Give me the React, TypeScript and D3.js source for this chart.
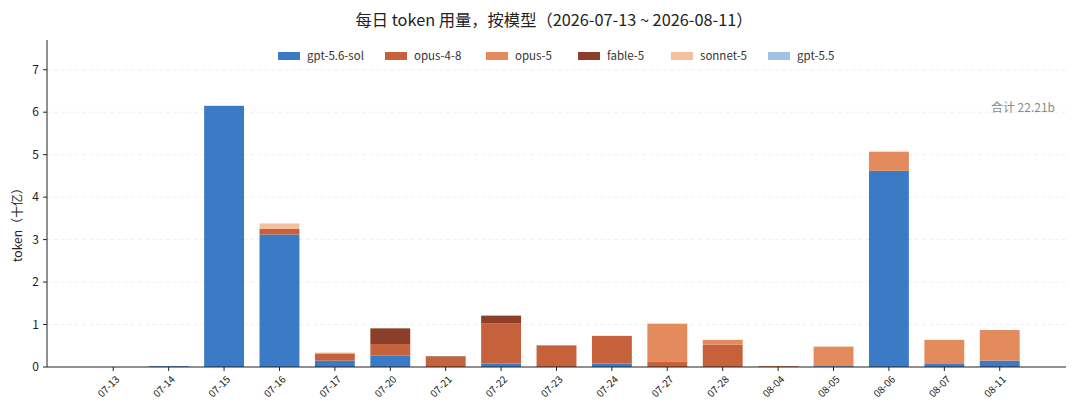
import React, { useEffect } from 'react';
import * as d3 from 'd3';

const dates = ['07-13', '07-14', '07-15', '07-16', '07-17', '07-20', '07-21', '07-22', '07-23', '07-24', '07-27', '07-28', '08-04', '08-05', '08-06', '08-07', '08-11'];

const models = ['gpt-5.6-sol', 'opus-4-8', 'opus-5', 'fable-5', 'sonnet-5', 'gpt-5.5'];
const modelColors = ['#3b7bc5', '#c6623b', '#e38b5d', '#8c3f28', '#f3c19f', '#a3c1e3'];

// 十亿 token / day
const gpt56sol = [0, 0.02, 6.15, 3.12, 0.15, 0.27, 0, 0.08, 0, 0.08, 0, 0, 0, 0.02, 4.62, 0.07, 0.15];
const opus48 = [0, 0, 0, 0.13, 0.17, 0.27, 0.22, 0.95, 0.51, 0.65, 0.12, 0.525, 0.02, 0, 0, 0, 0];
const opus5 = [0, 0, 0, 0, 0, 0, 0, 0, 0, 0, 0.9, 0.115, 0, 0.46, 0.45, 0.57, 0.72];
const fable5 = [0, 0, 0, 0, 0, 0.37, 0.03, 0.18, 0, 0, 0, 0, 0, 0, 0, 0, 0];
const sonnet5 = [0, 0, 0, 0.13, 0.02, 0, 0, 0, 0, 0.01, 0, 0, 0, 0, 0, 0, 0];
const gpt55 = [0, 0, 0, 0, 0, 0, 0, 0, 0, 0, 0, 0, 0, 0, 0, 0, 0];

const yTicks = [0, 1, 2, 3, 4, 5, 6, 7];
const totalLabel = '合计 22.21b';

const W = 1080;
const H = 414;
const left = 47;
const right = 1066;
const top = 40;
const bottom = 367;
const font = '"Noto Sans CJK SC", "Noto Sans", sans-serif';

const App: React.FC = () => {
    useEffect(() => {
        document.body.style.margin = '0';
    }, []);

    const seriesValues = [gpt56sol, opus48, opus5, fable5, sonnet5, gpt55];
    const rows = dates.map((d, i) => {
        const row: any = { date: d, idx: i };
        models.forEach((m, k) => { row[m] = seriesValues[k][i]; });
        return row;
    });
    const stacked = d3.stack<any>().keys(models)(rows);

    const barW = 0.72;
    const x = d3.scaleLinear().domain([-1.196, dates.length - 1 + 1.196]).range([left, right]);
    const y = d3.scaleLinear().domain([0, 7.7]).range([bottom, top]);
    const bw = x(barW) - x(0);

    // legend laid out left to right, centred over the axes
    const legendX = [278, 385, 486, 578, 671, 768];

    return (
        <svg width={W} height={H} style={{ display: 'block', fontFamily: font }}>
            <rect width={W} height={H} fill="#fff" />
            <text x={554} y={26} textAnchor="middle" fontSize={16.3} fill="#222">
                每日 token 用量，按模型（2026-07-13 ~ 2026-08-11）
            </text>

            {yTicks.slice(1).map(t => (
                <line key={t} x1={left} x2={right} y1={y(t)} y2={y(t)}
                    stroke="#ececec" strokeWidth={0.8} strokeDasharray="4,3" />
            ))}

            {stacked.map((s, k) => (
                <g key={models[k]} fill={modelColors[k]}>
                    {s.map((d, i) => (d[1] - d[0] > 0 ? (
                        <rect key={i} x={x(i) - bw / 2} width={bw}
                            y={y(d[1])} height={y(d[0]) - y(d[1])} />
                    ) : null))}
                </g>
            ))}

            <line x1={left} x2={left} y1={top} y2={bottom} stroke="#222" strokeWidth={1} />
            <line x1={left} x2={right} y1={bottom} y2={bottom} stroke="#222" strokeWidth={1} />

            {yTicks.map(t => (
                <g key={t} transform={`translate(${left},${y(t)})`}>
                    <line x1={-4} x2={0} stroke="#222" />
                    <text x={-8} dy="0.35em" textAnchor="end" fontSize={12} fill="#222">{t}</text>
                </g>
            ))}

            {dates.map((d, i) => (
                <g key={d} transform={`translate(${x(i)},${bottom})`}>
                    <line y1={0} y2={4} stroke="#222" />
                    <text transform="translate(2,8) rotate(-45)" textAnchor="end" dy="0.7em"
                        fontSize={10} fill="#222">{d}</text>
                </g>
            ))}

            <text transform={`translate(22,222) rotate(-90)`} textAnchor="middle"
                fontSize={12} fill="#222">token（十亿）</text>

            <text x={1055} y={112} textAnchor="end" fontSize={12} fill="#8a8a8a">{totalLabel}</text>

            {models.map((m, k) => (
                <g key={m} transform={`translate(${legendX[k]},56)`}>
                    <rect x={0} y={-4} width={22} height={8} fill={modelColors[k]} />
                    <text x={29} dy="0.35em" fontSize={11.5} fill="#333">{m}</text>
                </g>
            ))}
        </svg>
    );
};

export default App;
